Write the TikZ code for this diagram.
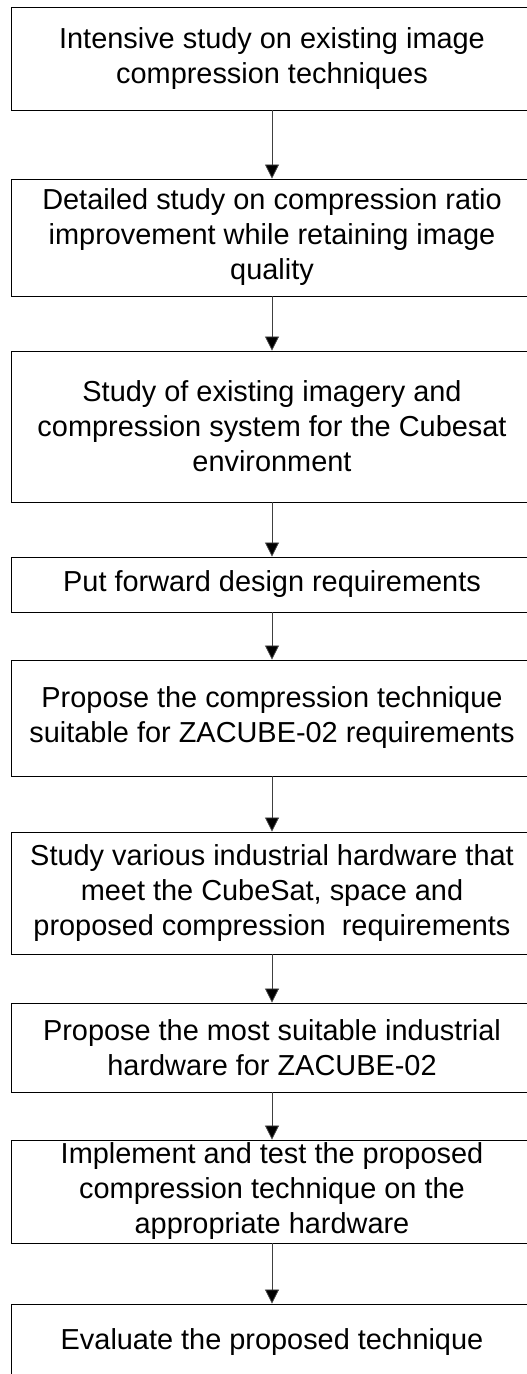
\documentclass[tikz,border=0pt]{standalone}
\usepackage{fontspec}
\setmainfont{Liberation Sans}
\usetikzlibrary{arrows.meta}

\tikzset{
  stepbox/.style={draw=black, line width=0.9pt, rectangle, inner sep=0pt,
    minimum width=521pt, align=center,
    font=\fontsize{28.9}{35}\selectfont},
  flow/.style={draw=black!75, line width=0.8pt,
    -{Triangle[width=14pt,length=14pt,fill=black]}}
}

\begin{document}
\begin{tikzpicture}[x=1pt, y=-1pt]
  \clip (0,0) rectangle (527,1374);
  \fill[white] (0,0) rectangle (527,1374);

  \node[stepbox, minimum height=103pt] (s1) at (272,58.5)
    {Intensive study on existing image\\compression techniques};
  \node[stepbox, minimum height=117pt] (s2) at (272,237.5)
    {Detailed study on compression ratio\\improvement while retaining image\\quality};
  \node[stepbox, minimum height=151pt] (s3) at (272,426.5)
    {Study of existing imagery and\\compression system for the Cubesat\\environment};
  \node[stepbox, minimum height=55pt] (s4) at (272,584.5)
    {Put forward design requirements};
  \node[stepbox, minimum height=116pt] (s5) at (272,718)
    {Propose the compression technique\\suitable for ZACUBE-02 requirements};
  \node[stepbox, minimum height=122pt] (s6) at (272,893)
    {Study various industrial hardware that\\meet the CubeSat, space and\\proposed compression~ requirements};
  \node[stepbox, minimum height=89pt] (s7) at (272,1047.5)
    {Propose the most suitable industrial\\hardware for ZACUBE-02};
  \node[stepbox, minimum height=103pt] (s8) at (272,1191.5)
    {Implement and test the proposed\\compression technique on the\\appropriate hardware};
  \node[stepbox, minimum height=76pt] (s9) at (272,1342)
    {Evaluate the proposed technique};

  \foreach \a/\b in {s1/s2, s2/s3, s3/s4, s4/s5, s5/s6, s6/s7, s7/s8, s8/s9}
    \draw[flow] (\a.south) -- (\b.north);
\end{tikzpicture}
\end{document}
